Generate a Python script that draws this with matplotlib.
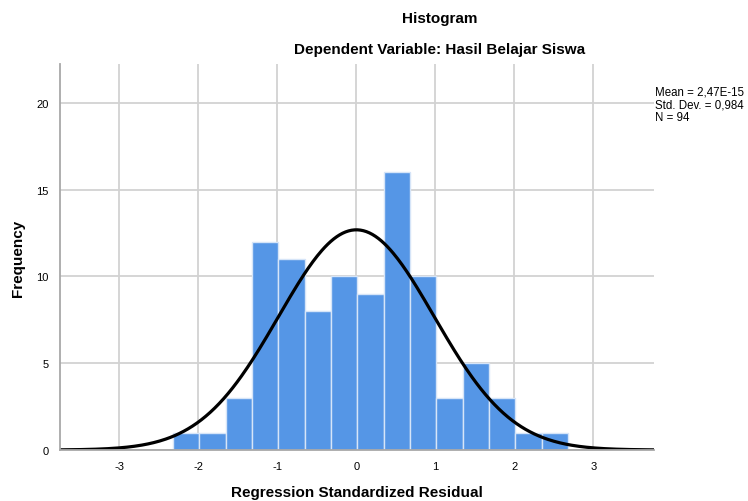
import numpy as np
import matplotlib.pyplot as plt

plt.rcParams['font.family'] = ['Liberation Sans', 'DejaVu Sans']
plt.rcParams['axes.unicode_minus'] = False

counts = [1, 1, 3, 12, 11, 8, 10, 9, 16, 10, 3, 5, 3, 1, 1]
first_edge = -2.318
bin_width = 0.333
mean = 2.47e-15
std = 0.984
n = 94

edges = first_edge + bin_width * np.arange(len(counts))

fig = plt.figure(figsize=(7.48, 5.02), dpi=100)
ax = fig.add_axes([0.0802, 0.1016, 0.7935, 0.769])

ax.bar(edges, counts, width=bin_width, align='edge', color='#5596e6',
       edgecolor='#d6e5f8', linewidth=1.0, zorder=3)

x = np.linspace(-3.75, 3.76, 400)
pdf = np.exp(-0.5 * ((x - mean) / std) ** 2) / (std * np.sqrt(2 * np.pi))
ax.plot(x, n * bin_width * pdf, color='black', linewidth=2.3, zorder=4)

ax.set_xlim(-3.75, 3.76)
ax.set_ylim(0, 22.25)
ax.set_xticks([-3, -2, -1, 0, 1, 2, 3])
ax.set_yticks([0, 5, 10, 15, 20])
ax.grid(True, color='#d2d2d2', linewidth=1.3, zorder=0)
ax.set_axisbelow(True)
ax.tick_params(length=0, labelsize=8, pad=8)
for s in ['top', 'right']:
    ax.spines[s].set_visible(False)
for s in ['left', 'bottom']:
    ax.spines[s].set_color('#a8a8a8')
    ax.spines[s].set_linewidth(1.3)
    ax.spines[s].set_zorder(5)

ax.set_xlabel('Regression Standardized Residual', fontsize=11, fontweight='bold')
ax.set_ylabel('Frequency', fontsize=11, fontweight='bold')
ax.xaxis.set_label_coords(0.5, -0.09)
ax.yaxis.set_label_coords(-0.071, 0.5)
ax.yaxis.label.set_va('center')

fig.text(0.588, 0.963, 'Histogram', ha='center', va='center', fontsize=11, fontweight='bold')
fig.text(0.588, 0.9, 'Dependent Variable: Hasil Belajar Siswa', ha='center', va='center',
         fontsize=11, fontweight='bold')
fig.text(0.876, 0.79, 'Mean = 2,47E-15\nStd. Dev. = 0,984\nN = 94', ha='left', va='center',
         fontsize=8.3, linespacing=1.1)

fig.savefig('out.png', dpi=100)
